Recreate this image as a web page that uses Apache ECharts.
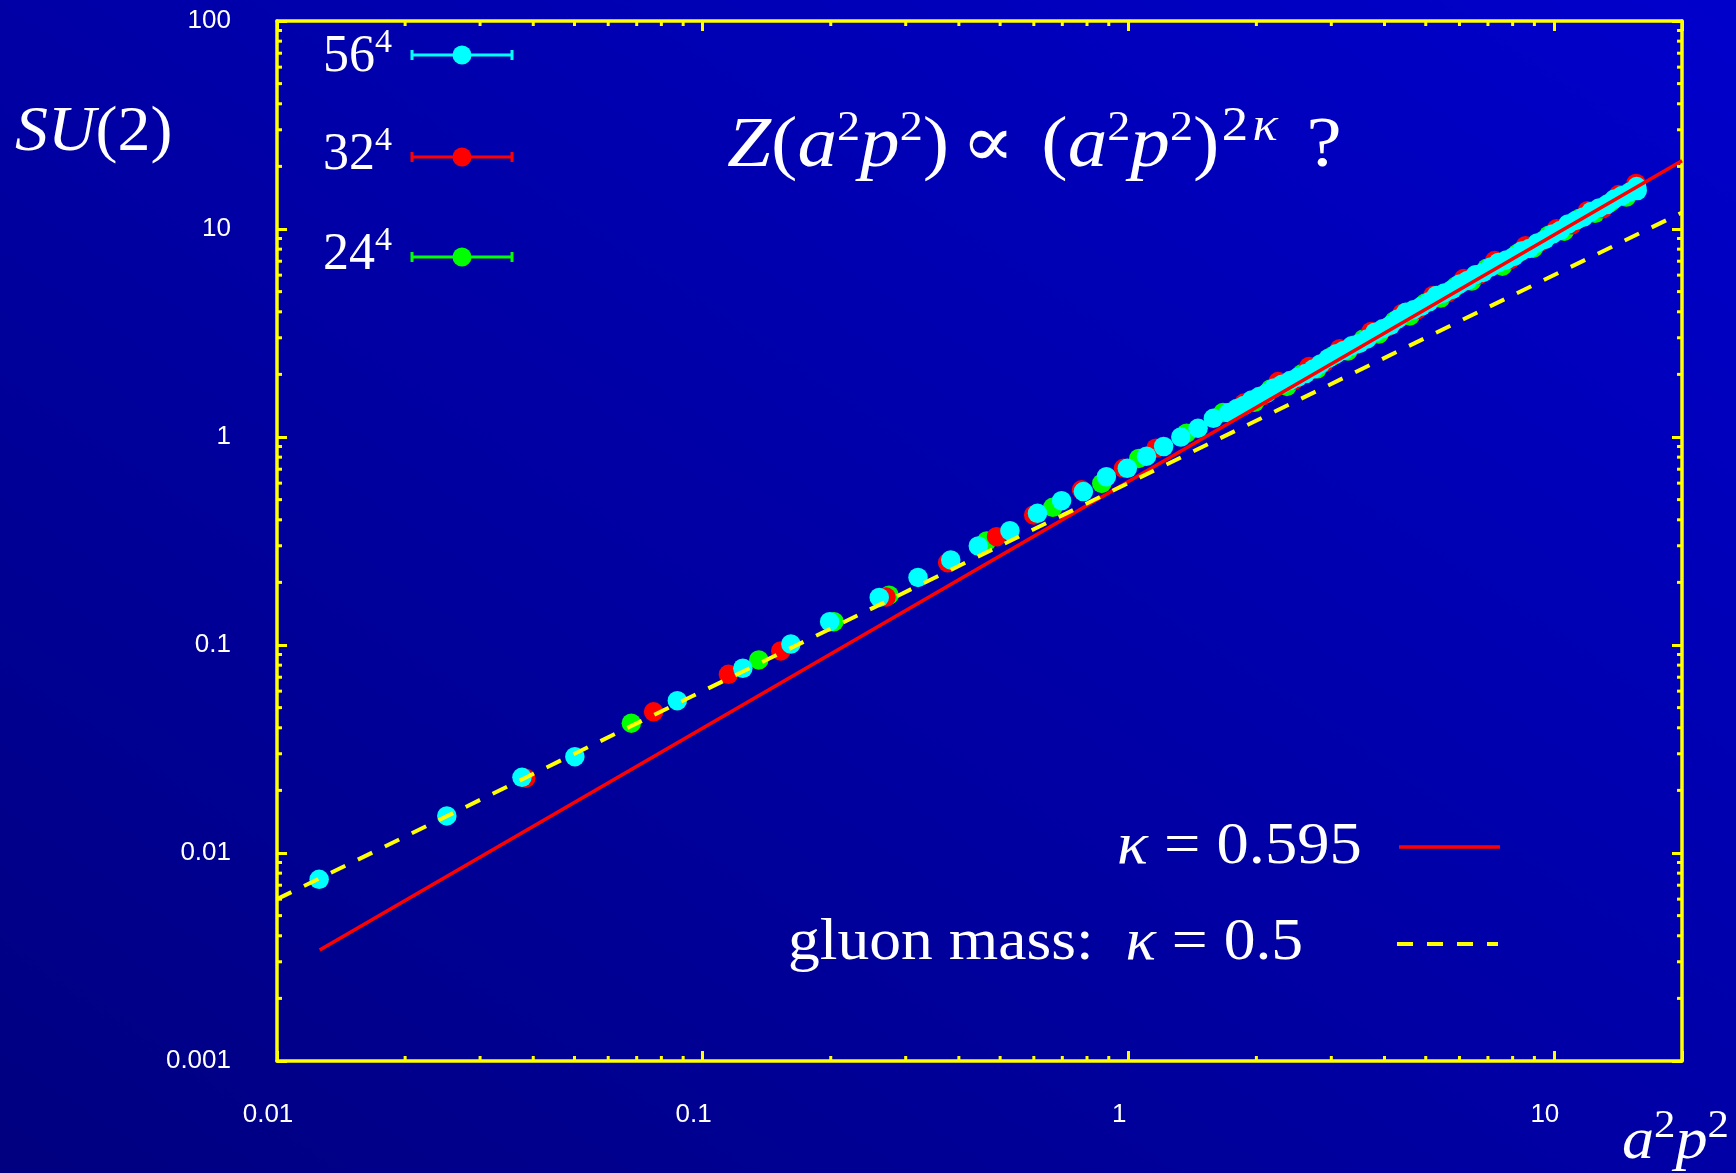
<!DOCTYPE html>
<html>
<head>
<meta charset="utf-8">
<script src="https://cdn.jsdelivr.net/npm/echarts@6/dist/echarts.min.js"></script>
<style>
html,body{margin:0;padding:0;background:#0000a0;}
#chart{width:1736px;height:1173px;background:linear-gradient(to top right,#000080 0%,#0000a6 50%,#0000cc 100%);}
</style>
</head>
<body>
<div id="chart"></div>
<script>
// ---------------- data ----------------
const X_MIN = 0.01, X_MAX = 20, Y_MIN = 0.001, Y_MAX = 100;
const xTickValues = [0.01, 0.1, 1, 10];
const xTickLabels = ['0.01', '0.1', '1', '10'];
const yTickValues = [0.001, 0.01, 0.1, 1, 10, 100];
const yTickLabels = ['0.001', '0.01', '0.1', '1', '10', '100'];
const xMinorTicks = [0.02,0.03,0.04,0.05,0.06,0.07,0.08,0.09,0.2,0.3,0.4,0.5,0.6,0.7,0.8,0.9,2,3,4,5,6,7,8,9];
const yMinorTicks = [0.002,0.003,0.004,0.005,0.006,0.007,0.008,0.009,0.02,0.03,0.04,0.05,0.06,0.07,0.08,0.09,
                     0.2,0.3,0.4,0.5,0.6,0.7,0.8,0.9,2,3,4,5,6,7,8,9,20,30,40,50,60,70,80,90];

// 56^4 lattice (cyan)
const x56 = [0.01256,0.02506,0.03763,0.0501,0.0872,0.1243,0.1612,0.1988,0.260,0.3207,0.3828,0.4443,0.5272,0.612,0.6973,0.7845,0.8884,0.995,1.104,1.211,1.329,1.459,1.585,1.722,
  1.80,1.87,1.95,2.03,2.12,2.20,2.30,2.40,2.50,2.61,2.72,2.83,2.95,3.08,3.21,3.35,3.49,3.64,3.80,3.96,4.13,4.30,4.49,4.68,4.88,5.09,5.30,5.53,5.77,6.01,6.27,6.54,6.82,7.11,7.41,7.73,8.06,8.40,8.76,9.14,9.53,9.93,10.36,10.80,11.26,11.74,12.24,12.77,13.31,13.88,14.47,15.09,15.65,15.7];
const y56 = [0.00747,0.01507,0.02312,0.02904,0.0540,0.0773,0.1011,0.1294,0.1694,0.2113,0.2564,0.2992,0.3543,0.4297,0.4943,0.5463,0.644,0.707,0.809,0.900,1.00,1.101,1.23,1.31,
  1.371,1.418,1.507,1.564,1.628,1.721,1.795,1.867,1.937,2.017,2.120,2.245,2.387,2.511,2.608,2.744,2.818,2.963,3.189,3.313,3.444,3.694,3.977,4.085,4.249,4.467,4.791,4.930,5.125,5.444,5.659,6.020,6.185,6.571,6.902,7.103,7.382,7.841,8.062,8.575,8.912,9.463,9.848,10.57,10.99,11.42,12.14,12.63,13.11,13.95,14.49,15.07,16.0,15.3];

// 32^4 lattice (red)
const x32 = [0.0384,0.0767,0.1150,0.1526,0.2697,0.3765,0.4904,0.5996,0.7766,0.975,1.162,1.871,
  2.07,2.25,2.45,2.66,2.89,3.14,3.42,3.72,4.05,4.40,4.78,5.20,5.65,6.14,6.68,7.26,7.90,8.58,9.33,10.15,11.03,12.0,13.05,14.2,15.4,15.6];
const y32 = [0.0229,0.0477,0.0723,0.0936,0.170,0.2488,0.3318,0.4217,0.557,0.707,0.883,1.456,
  1.583,1.846,1.872,2.182,2.278,2.657,2.784,3.215,3.364,3.928,4.097,4.790,4.945,5.774,6.036,7.047,7.129,8.316,8.691,10.04,10.48,12.25,12.53,14.64,15.44,16.56];

// 24^4 lattice (green)
const x24 = [0.068,0.1355,0.2036,0.2742,0.4650,0.6648,0.8666,1.059,1.371,1.669,
  1.98,2.16,2.36,2.56,2.78,3.01,3.28,3.57,3.88,4.22,4.59,4.99,5.42,5.90,6.41,6.96,7.57,8.23,8.95,9.73,10.58,11.5,12.5,13.6,14.8,15.5];
const y24 = [0.0421,0.0848,0.1294,0.1735,0.3162,0.4592,0.598,0.789,1.043,1.31,
  1.468,1.703,1.750,2.016,2.126,2.444,2.589,2.960,3.127,3.613,3.819,4.409,4.656,5.326,5.622,6.481,6.628,7.652,8.091,9.339,9.763,11.27,11.90,13.45,14.24,15.38];

// fit lines (end points)
const fitKappa0595X = [0.0126, 20];
const fitKappa0595Y = [0.00342, 21.3];
const fitKappa05X = [0.01, 20];
const fitKappa05Y = [0.006, 12];

// ---------------- styling ----------------
const YEL = '#ffff00';
const CYAN = '#00ffff', RED = '#ff0000', GREEN = '#00ff00';
const SERIF = "'Liberation Serif','DejaVu Serif',serif";
const SANS = "'Liberation Sans',Arial,sans-serif";
const MAJOR = 10, MINOR = 5;

function pairs(xs, ys) { return xs.map((x, i) => [x, ys[i]]); }
function fmt(vals, labels) {
  return function (v) {
    for (let i = 0; i < vals.length; i++) {
      if (Math.abs(v / vals[i] - 1) < 1e-6) return labels[i];
    }
    return '';
  };
}

function xAxisDef(pos, labels) {
  return {
    type: 'log', logBase: 10, min: X_MIN, max: X_MAX, position: pos,
    axisLine: { show: true, onZero: false, lineStyle: { color: YEL, width: 3.5 } },
    axisTick: { show: true, inside: true, length: MAJOR, lineStyle: { color: YEL, width: 3 } },
    axisLabel: { show: labels, color: '#ffffff', fontFamily: SANS, fontSize: 26, margin: 41,
                 padding: [0, 18, 0, 0], formatter: fmt(xTickValues, xTickLabels) },
    splitLine: { show: false }, minorTick: { show: false }
  };
}
function yAxisDef(pos, labels) {
  return {
    type: 'log', logBase: 10, min: Y_MIN, max: Y_MAX, position: pos,
    axisLine: { show: true, onZero: false, lineStyle: { color: YEL, width: 3.5 } },
    axisTick: { show: true, inside: true, length: MAJOR, lineStyle: { color: YEL, width: 3 } },
    axisLabel: { show: labels, color: '#ffffff', fontFamily: SANS, fontSize: 26, margin: 46,
                 padding: [8, 0, 0, 0], formatter: fmt(yTickValues, yTickLabels) },
    splitLine: { show: false }, minorTick: { show: false }
  };
}

function scatter(name, xs, ys, color) {
  return {
    name, type: 'scatter', xAxisIndex: 0, yAxisIndex: 0,
    data: pairs(xs, ys), symbol: 'circle', symbolSize: 19.5,
    itemStyle: { color, borderWidth: 0, opacity: 1 },
    emphasis: { disabled: true }, silent: true
  };
}

function minorX() {
  return {
    type: 'custom', xAxisIndex: 0, yAxisIndex: 0, silent: true, clip: false, z: 5,
    data: xMinorTicks.map(v => [v, Y_MIN]),
    encode: { x: 0, y: 1 },
    renderItem: function (params, api) {
      const v = api.value(0);
      const b = api.coord([v, Y_MIN]);
      const t = api.coord([v, Y_MAX]);
      const st = { stroke: YEL, lineWidth: 3 };
      return { type: 'group', children: [
        { type: 'line', shape: { x1: b[0], y1: b[1], x2: b[0], y2: b[1] - MINOR }, style: st },
        { type: 'line', shape: { x1: t[0], y1: t[1], x2: t[0], y2: t[1] + MINOR }, style: st }
      ] };
    }
  };
}
function minorY() {
  return {
    type: 'custom', xAxisIndex: 0, yAxisIndex: 0, silent: true, clip: false, z: 5,
    data: yMinorTicks.map(v => [X_MIN, v]),
    encode: { x: 0, y: 1 },
    renderItem: function (params, api) {
      const v = api.value(1);
      const l = api.coord([X_MIN, v]);
      const r = api.coord([X_MAX, v]);
      const st = { stroke: YEL, lineWidth: 3 };
      return { type: 'group', children: [
        { type: 'line', shape: { x1: l[0], y1: l[1], x2: l[0] + MINOR, y2: l[1] }, style: st },
        { type: 'line', shape: { x1: r[0], y1: r[1], x2: r[0] - MINOR, y2: r[1] }, style: st }
      ] };
    }
  };
}

// rich text with superscripts; parts: [style, text, padLeft, padRight]
function richText(left, baseline, F, L, Fs, P, sx, parts, Fs2) {
  const top = baseline - L / 2 - 0.3375 * F;
  const base = { fontFamily: SERIF, fill: '#ffffff' };
  const FsB = Fs2 || Fs;
  const PB = P - (FsB - Fs) * 0.8;
  const rich = {
    rm: Object.assign({}, base, { fontSize: F, lineHeight: L }),
    it: Object.assign({}, base, { fontSize: F, lineHeight: L, fontStyle: 'italic' }),
    sp: Object.assign({}, base, { fontSize: Fs, lineHeight: Fs, verticalAlign: 'top', padding: [P, 0, 0, 0] }),
    spb: Object.assign({}, base, { fontSize: FsB, lineHeight: FsB, verticalAlign: 'top', padding: [Math.max(PB, 0), 0, 0, 0] }),
    spi: Object.assign({}, base, { fontSize: FsB, lineHeight: FsB, verticalAlign: 'top', padding: [Math.max(PB, 0), 0, 0, 0], fontStyle: 'italic' })
  };
  const text = parts.map((p, i) => {
    let name = p[0];
    if (p.length > 2) {
      const nm = name + 'x' + i;
      const s = Object.assign({}, rich[name]);
      const top = rich[name].padding ? rich[name].padding[0] : 0;
      s.padding = [top, p[3] || 0, 0, p[2] || 0];
      rich[nm] = s;
      name = nm;
    }
    return '{' + name + '|' + p[1] + '}';
  }).join('');
  return { type: 'text', x: left, y: top, scaleX: sx, scaleY: 1, z: 100, silent: true,
           style: { text, rich, fill: '#ffffff', align: 'left', verticalAlign: 'top', fontFamily: SERIF, fontSize: F } };
}

function legendSample(y, color) {
  return [
    { type: 'line', shape: { x1: 411, y1: y, x2: 513, y2: y }, style: { stroke: color, lineWidth: 3 }, z: 100, silent: true },
    { type: 'line', shape: { x1: 412, y1: y - 5, x2: 412, y2: y + 5 }, style: { stroke: color, lineWidth: 3 }, z: 100, silent: true },
    { type: 'line', shape: { x1: 512, y1: y - 5, x2: 512, y2: y + 5 }, style: { stroke: color, lineWidth: 3 }, z: 100, silent: true },
    { type: 'circle', shape: { cx: 462, cy: y, r: 9.5 }, style: { fill: color }, z: 101, silent: true }
  ];
}

const graphics = [].concat(
  [richText(15, 155, 64, 76, 42, 0, 1.03, [['it', 'SU'], ['rm', '(2)']])],
  [richText(727, 171, 72, 86, 42, 4, 1.1, [['it', 'Z'], ['rm', '('], ['it', 'a'], ['sp', '2'], ['it', 'p'], ['sp', '2'],
      ['rm', ')', 0, 11], ['rm', '∝', 0, 24], ['rm', '('], ['it', 'a'], ['sp', '2'], ['it', 'p'], ['sp', '2'], ['rm', ')', 0, 2],
      ['spb', '2'], ['spi', 'κ', 4, 0], ['rm', '?', 26, 0]], 48)],
  [richText(323, 75, 52, 62, 34, 0, 1, [['rm', '56'], ['sp', '4']])],
  [richText(323, 173, 52, 62, 34, 0, 1, [['rm', '32'], ['sp', '4']])],
  [richText(323, 273, 52, 62, 34, 0, 1, [['rm', '24'], ['sp', '4']])],
  legendSample(55, CYAN), legendSample(157, RED), legendSample(257, GREEN),
  [richText(1622, 1162, 60, 72, 40, 1, 1.07, [['it', 'a'], ['sp', '2'], ['it', 'p'], ['sp', '2']])],
  [richText(1117, 867, 60, 72, 40, 0, 1.075, [['it', 'κ'], ['rm', ' = 0.595']])],
  [richText(788, 963, 60, 72, 40, 0, 1.06, [['rm', 'gluon mass:  '], ['it', 'κ'], ['rm', ' = 0.5']])],
  [{ type: 'line', shape: { x1: 1399, y1: 847, x2: 1500, y2: 847 }, style: { stroke: RED, lineWidth: 3.5 }, z: 100, silent: true }],
  [{ type: 'line', shape: { x1: 1397, y1: 944, x2: 1498, y2: 944 }, style: { stroke: YEL, lineWidth: 4, lineDash: [16, 14] }, z: 100, silent: true }]
);

const chart = echarts.init(document.getElementById('chart'), null, { renderer: 'canvas' });
chart.setOption({
  animation: false,
  backgroundColor: 'transparent',
  grid: { left: 277, right: 54, top: 21, bottom: 112, containLabel: false },
  xAxis: [xAxisDef('bottom', true), xAxisDef('top', false)],
  yAxis: [yAxisDef('left', true), yAxisDef('right', false)],
  series: [
    scatter('24⁴', x24, y24, GREEN),
    scatter('32⁴', x32, y32, RED),
    scatter('56⁴', x56, y56, CYAN),
    { name: 'κ = 0.595', type: 'line', xAxisIndex: 0, yAxisIndex: 0, data: pairs(fitKappa0595X, fitKappa0595Y),
      showSymbol: false, symbol: 'none', lineStyle: { color: RED, width: 3.5 }, silent: true, emphasis: { disabled: true } },
    { name: 'gluon mass: κ = 0.5', type: 'line', xAxisIndex: 0, yAxisIndex: 0, data: pairs(fitKappa05X, fitKappa05Y),
      showSymbol: false, symbol: 'none', lineStyle: { color: YEL, width: 4, type: [16, 14] }, silent: true, emphasis: { disabled: true } },
    minorX(), minorY()
  ],
  graphic: graphics
});
</script>
</body>
</html>
